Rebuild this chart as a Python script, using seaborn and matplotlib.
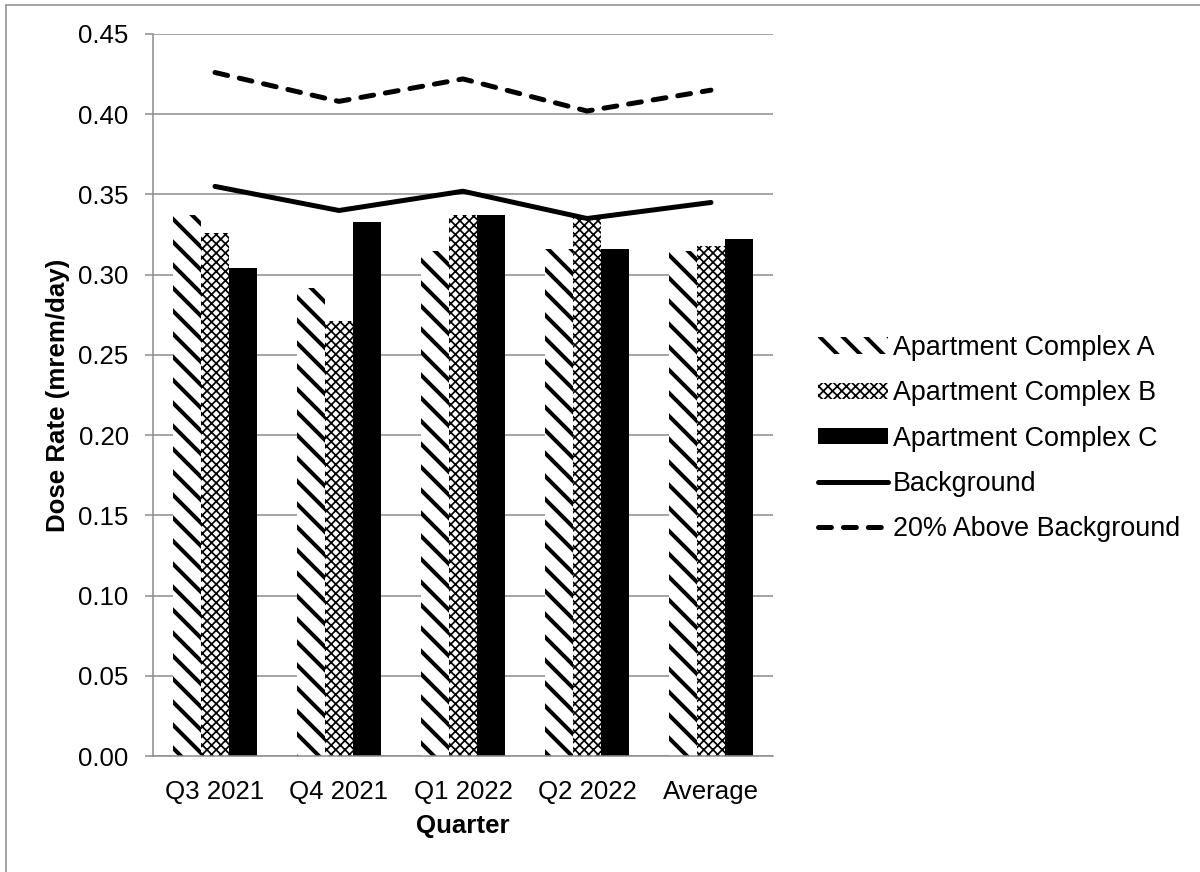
import numpy as np
import pandas as pd
import matplotlib
matplotlib.use("Agg")
import matplotlib.pyplot as plt
import matplotlib.patches as mpatches
import matplotlib.lines as mlines
from matplotlib.ticker import FixedLocator, FormatStrFormatter
import seaborn as sns

quarters = ["Q3 2021", "Q4 2021", "Q1 2022", "Q2 2022", "Average"]
complex_a = [0.337, 0.292, 0.315, 0.316, 0.315]
complex_b = [0.326, 0.271, 0.337, 0.336, 0.318]
complex_c = [0.304, 0.333, 0.337, 0.316, 0.322]
background = [0.355, 0.340, 0.352, 0.335, 0.345]
above_20pct = [0.426, 0.408, 0.422, 0.402, 0.415]
series_names = ["Apartment Complex A", "Apartment Complex B", "Apartment Complex C"]

DPI = 138
FS = 13.5
LEG_FS = 14
GREY = "#8c8c8c"
HATCH_A, HATCH_B = "\\\\", "xxxxx"
HLW_A, HLW_B = 2.1, 0.9

sns.set_theme(style="white")
plt.rcParams["font.family"] = ["Liberation Sans", "DejaVu Sans"]
plt.rcParams["hatch.linewidth"] = HLW_A
for key in ["text.color", "axes.labelcolor", "xtick.labelcolor", "ytick.labelcolor"]:
    plt.rcParams[key] = "black"

df = pd.DataFrame({
    "Quarter": quarters * 3,
    "Dose": complex_a + complex_b + complex_c,
    "Site": sum([[n] * len(quarters) for n in series_names], []),
})

fig = plt.figure(figsize=(1201 / DPI, 872 / DPI), dpi=DPI)
# thin frame along the left and top edges of the canvas
fig.add_artist(mlines.Line2D([6 / 1201, 6 / 1201], [0, 1 - 5 / 872],
                             transform=fig.transFigure, color=GREY, lw=0.8))
fig.add_artist(mlines.Line2D([6 / 1201, 1], [1 - 5 / 872, 1 - 5 / 872],
                             transform=fig.transFigure, color=GREY, lw=0.8))

ax = fig.add_axes([153 / 1201, 116 / 872, 620 / 1201, 722 / 872])

sns.barplot(data=df, x="Quarter", y="Dose", hue="Site", order=quarters,
            hue_order=series_names, palette=["white", "white", "black"],
            width=0.67, gap=0, legend=False, ax=ax, saturation=1)

styles = [(HATCH_A, HLW_A), (HATCH_B, HLW_B), ("", 0)]
for cont, (hatch, hlw) in zip(ax.containers, styles):
    for bar in cont:
        bar.set_edgecolor("black")
        bar.set_linewidth(0)
        if hatch:
            bar.set_hatch(hatch)
            if hasattr(bar, "set_hatch_linewidth"):
                bar.set_hatch_linewidth(hlw)

x = np.arange(len(quarters))
sns.lineplot(x=x, y=background, color="black", lw=2.6, ax=ax, zorder=5)
sns.lineplot(x=x, y=above_20pct, color="black", lw=2.6, ax=ax, zorder=5)
ax.lines[-1].set_dashes([2.6, 2.4])
ax.lines[-1].set_dash_capstyle("round")

ax.set_xlim(-0.5, len(quarters) - 0.5)
ax.set_ylim(0, 0.45)
ax.yaxis.set_major_locator(FixedLocator(np.arange(0, 0.451, 0.05)))
ax.yaxis.set_major_formatter(FormatStrFormatter("%.2f"))
ax.grid(axis="y", color=GREY, lw=0.8)
ax.set_axisbelow(True)

for s in ["top", "right"]:
    ax.spines[s].set_visible(False)
for s in ["left", "bottom"]:
    ax.spines[s].set_color(GREY)
    ax.spines[s].set_linewidth(0.8)

ax.set_xticks(x)
ax.set_xticklabels(quarters)
ax.set_xticks(np.arange(-0.5, len(quarters)), minor=True)
ax.tick_params(axis="x", which="major", length=0, labelsize=FS, pad=12.5, labelcolor="black")
ax.tick_params(axis="x", which="minor", length=3.8, width=0.8, color=GREY, direction="out")
ax.tick_params(axis="y", length=4.2, width=0.8, color=GREY, labelsize=FS, pad=8.5,
               direction="out", left=True, labelcolor="black")
ax.set_xlabel("Quarter", fontsize=FS, fontweight="bold", labelpad=5.5, color="black")
ax.set_ylabel("Dose Rate (mrem/day)", fontsize=FS, fontweight="bold", labelpad=4.5,
              color="black")

handles = [
    mpatches.Patch(facecolor="white", edgecolor="black", lw=0, hatch=HATCH_A),
    mpatches.Patch(facecolor="white", edgecolor="black", lw=0, hatch=HATCH_B),
    mpatches.Patch(facecolor="black", edgecolor="black", lw=0),
    mlines.Line2D([], [], color="black", lw=2.6),
    mlines.Line2D([], [], color="black", lw=2.6, dashes=[2.6, 2.4],
                  dash_capstyle="round"),
]
labels = series_names + ["Background", "20% Above Background"]
leg = fig.legend(handles, labels, loc="center left", bbox_to_anchor=(818 / 1201, 0.497),
                 frameon=False, fontsize=LEG_FS, handlelength=2.6, handleheight=0.55,
                 handletextpad=0.2, labelspacing=0.72, borderpad=0, borderaxespad=0,
                 labelcolor="black")
for h, hlw in zip(leg.legend_handles[:2], [HLW_A, HLW_B]):
    if hasattr(h, "set_hatch_linewidth"):
        h.set_hatch_linewidth(hlw)

fig.savefig("out.png", dpi=DPI)
